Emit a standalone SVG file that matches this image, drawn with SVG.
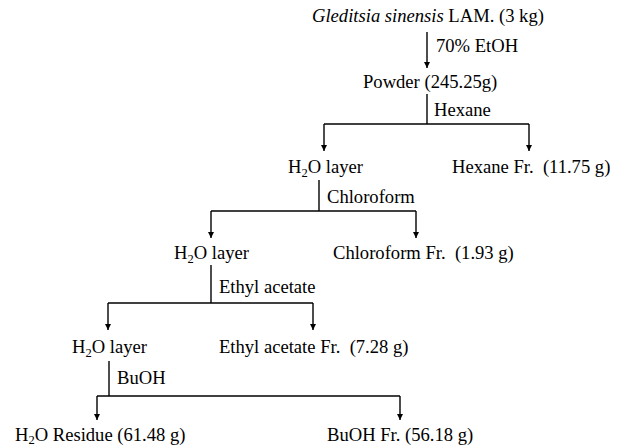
<svg xmlns="http://www.w3.org/2000/svg" width="626" height="448" viewBox="0 0 626 448">
<style>
text{font-family:"Liberation Serif","Times New Roman",serif;font-size:18.6px;fill:#000}
.c line,.c path{stroke:#000;stroke-width:1.4;fill:none}
.s{font-size:12.5px}
</style>
<defs>
<marker id="a" viewBox="0 0 10 10" refX="10" refY="5" markerWidth="7" markerHeight="6" markerUnits="userSpaceOnUse" orient="auto"><path d="M0,0 L10,5 L0,10 z" fill="#000"/></marker>
</defs>
<rect width="626" height="448" fill="#fff"/>
<g class="c" id="connectors">
<line x1="427" y1="32" x2="427" y2="68" marker-end="url(#a)"/>
<path d="M427,94 V124"/>
<line x1="324" y1="124" x2="529" y2="124"/>
<line x1="324" y1="124" x2="324" y2="151" marker-end="url(#a)"/>
<line x1="529" y1="124" x2="529" y2="151" marker-end="url(#a)"/>
<path d="M319,180 V211"/>
<line x1="211" y1="211" x2="416" y2="211"/>
<line x1="211" y1="211" x2="211" y2="238" marker-end="url(#a)"/>
<line x1="416" y1="211" x2="416" y2="238" marker-end="url(#a)"/>
<path d="M211,265 V303"/>
<line x1="108" y1="303" x2="313" y2="303"/>
<line x1="108" y1="303" x2="108" y2="330" marker-end="url(#a)"/>
<line x1="313" y1="303" x2="313" y2="330" marker-end="url(#a)"/>
<path d="M109,361 V396"/>
<line x1="97" y1="396" x2="400" y2="396"/>
<line x1="97" y1="396" x2="97" y2="420" marker-end="url(#a)"/>
<line x1="400" y1="396" x2="400" y2="420" marker-end="url(#a)"/>
</g>
<g id="n-start"><text x="312" y="22" font-size="17.6"><tspan font-style="italic">Gleditsia sinensis</tspan> LAM. (3 kg)</text></g>
<g id="l-etoh"><text x="436" y="52">70% EtOH</text></g>
<g id="n-powder"><text x="363" y="88">Powder (245.25g)</text></g>
<g id="l-hexane"><text x="434" y="116">Hexane</text></g>
<g id="n-h2o1"><text x="288" y="173">H<tspan class="s" dy="4">2</tspan><tspan dy="-4">O layer</tspan></text></g>
<g id="n-hexfr"><text x="452" y="173" xml:space="preserve">Hexane Fr.  (11.75 g)</text></g>
<g id="l-chloro"><text x="327" y="203">Chloroform</text></g>
<g id="n-h2o2"><text x="174" y="259">H<tspan class="s" dy="4">2</tspan><tspan dy="-4">O layer</tspan></text></g>
<g id="n-chlfr"><text x="333" y="259" xml:space="preserve">Chloroform Fr.  (1.93 g)</text></g>
<g id="l-ea"><text x="219" y="293">Ethyl acetate</text></g>
<g id="n-h2o3"><text x="72" y="353">H<tspan class="s" dy="4">2</tspan><tspan dy="-4">O layer</tspan></text></g>
<g id="n-eafr"><text x="219" y="353" xml:space="preserve">Ethyl acetate Fr.  (7.28 g)</text></g>
<g id="l-buoh"><text x="117" y="384">BuOH</text></g>
<g id="n-res"><text x="15" y="441">H<tspan class="s" dy="3">2</tspan><tspan dy="-3">O Residue (61.48 g)</tspan></text></g>
<g id="n-bufr"><text x="327" y="441">BuOH Fr. (56.18 g)</text></g>
</svg>
